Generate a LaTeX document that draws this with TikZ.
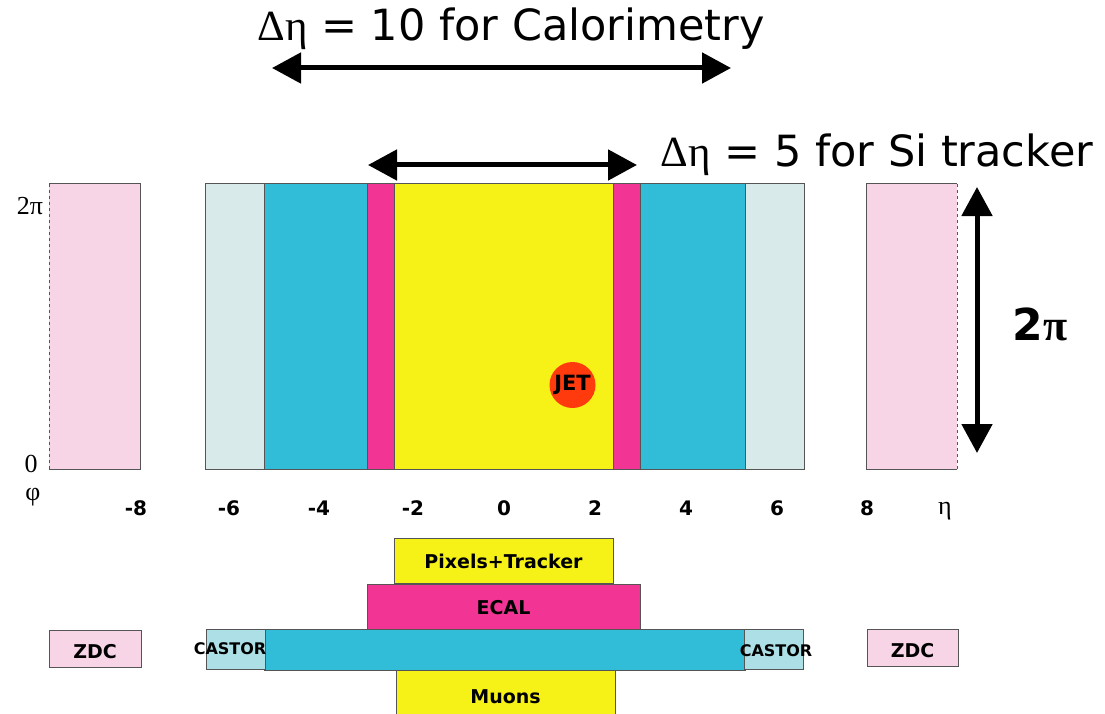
\documentclass[tikz,border=0pt]{standalone}
\usepackage{fontspec}
\setmainfont{DejaVu Sans}
\newfontfamily\serif{Liberation Serif}
\usetikzlibrary{arrows.meta}
\definecolor{zdcpink}{HTML}{F8D5E6}
\definecolor{hfgrey}{HTML}{D8EAEA}
\definecolor{castorc}{HTML}{ADE0E6}
\definecolor{hcal}{HTML}{31BCD8}
\definecolor{ecal}{HTML}{F23594}
\definecolor{trk}{HTML}{F6F218}
\definecolor{jetc}{HTML}{FF3B0E}
\definecolor{edge}{HTML}{555555}
\tikzset{
  box/.style={draw=edge, line width=1pt, inner sep=0pt, outer sep=0pt, anchor=north west},
  fillbox/.style={inner sep=0pt, outer sep=0pt, anchor=north west},
  lbl/.style={font=\fontsize{19}{19}\selectfont\bfseries, inner sep=0pt},
  castorlbl/.style={font=\fontsize{16}{16}\selectfont\bfseries, inner sep=0pt},
  tick/.style={font=\fontsize{20}{20}\selectfont\bfseries, inner sep=0pt},
  sym/.style={font=\serif\fontsize{26}{26}\selectfont, inner sep=0pt},
  bigtxt/.style={font=\fontsize{43}{43}\selectfont, inner sep=0pt},
  bigarrow/.style={line width=5pt, {Triangle[length=29pt,width=30pt]}-{Triangle[length=29pt,width=30pt]}},
}
\begin{document}
\begin{tikzpicture}[x=1pt,y=-1pt]
\useasboundingbox (0,0) rectangle (1105,714);
% top eta-phi map
\node[fillbox, fill=zdcpink, minimum width=91pt, minimum height=285pt] (zdcL) at (49,184) {};
\draw[edge, line width=1pt] (zdcL.north west) -- (zdcL.north east) -- (zdcL.south east) -- (zdcL.south west);
\draw[edge, line width=1pt, dashed] (zdcL.north west) -- (zdcL.south west);
\node[fillbox, fill=zdcpink, minimum width=91pt, minimum height=285pt] (zdcR) at (866,184) {};
\draw[edge, line width=1pt] (zdcR.north east) -- (zdcR.north west) -- (zdcR.south west) -- (zdcR.south east);
\draw[edge, line width=1pt, dashed] (zdcR.north east) -- (zdcR.south east);
\node[box, fill=hfgrey, minimum width=59pt, minimum height=285pt] (hfL) at (205,184) {};
\node[box, fill=hcal, minimum width=103pt, minimum height=285pt] (hcL) at (264,184) {};
\node[box, fill=ecal, minimum width=27pt, minimum height=285pt] (ecL) at (367,184) {};
\node[box, fill=trk, minimum width=219pt, minimum height=285pt] (trkT) at (394,184) {};
\node[box, fill=ecal, minimum width=27pt, minimum height=285pt] (ecR) at (613,184) {};
\node[box, fill=hcal, minimum width=105pt, minimum height=285pt] (hcR) at (640,184) {};
\node[box, fill=hfgrey, minimum width=59pt, minimum height=285pt] (hfR) at (745,184) {};
% jet
\node[circle, fill=jetc, minimum size=46pt, inner sep=0pt, font=\fontsize{21}{21}\selectfont\bfseries] (jet) at (572.5,385) {JET};
% axis labels
\node[sym] (twopi) at (30,206) {2π};
\node[sym] (zero) at (31,464) {0};
\node[sym] (phi) at (33,497) {φ};
\node[tick] (tm8) at (136,508) {-8};
\node[tick] (tm6) at (229,508) {-6};
\node[tick] (tm4) at (319,508) {-4};
\node[tick] (tm2) at (413,508) {-2};
\node[tick] (t0) at (504,508) {0};
\node[tick] (t2) at (595,508) {2};
\node[tick] (t4) at (686,508) {4};
\node[tick] (t6) at (777,508) {6};
\node[tick] (t8) at (867,508) {8};
\node[sym] (eta) at (945,511) {η};
% arrows and headings
\node[bigtxt, anchor=center] (calo) at (511,29) {{\serif Δη} = 10 for Calorimetry};
\coordinate (caloL) at (272,68);
\coordinate (caloR) at (731,68);
\draw[bigarrow] (caloL) -- (caloR);
\node[bigtxt, anchor=center] (si) at (877,155) {{\serif Δη} = 5 for Si tracker};
\coordinate (siL) at (368,165);
\coordinate (siR) at (637,165);
\draw[bigarrow] (siL) -- (siR);
\coordinate (phT) at (977,187);
\coordinate (phB) at (977,453);
\draw[bigarrow] (phT) -- (phB);
\node[font=\fontsize{44}{44}\selectfont\bfseries, inner sep=0pt] (twopiB) at (1040,324) {2{\serif π}};
% bottom side view
\node[box, fill=trk, minimum width=219pt, minimum height=45pt] (pix) at (394,538) {};
\node[lbl] at ([yshift=-1pt]pix.center) {Pixels+Tracker};
\node[box, fill=ecal, minimum width=273pt, minimum height=45pt] (ecal) at (367,584) {};
\node[lbl] at ([yshift=-1pt]ecal.center) {ECAL};
\node[box, fill=trk, minimum width=219pt, minimum height=50pt] (muon) at (396,670) {};
\node[lbl] at ([yshift=-2pt]muon.center) {Muons};
\node[box, fill=hcal, minimum width=481pt, minimum height=41pt] (hcal) at (264,629) {};
\node[box, fill=castorc, minimum width=59pt, minimum height=40pt] (castL) at (206,629) {};
\node[castorlbl] at (230,649) {CASTOR};
\node[box, fill=castorc, minimum width=59pt, minimum height=40pt] (castR) at (744,629) {};
\node[castorlbl] at (776,651) {CASTOR};
\node[box, fill=zdcpink, minimum width=92pt, minimum height=37pt] (zdcbL) at (49,630) {};
\node[lbl] at ([yshift=-3pt]zdcbL.center) {ZDC};
\node[box, fill=zdcpink, minimum width=91pt, minimum height=37pt] (zdcbR) at (867,629) {};
\node[lbl] at ([yshift=-3pt]zdcbR.center) {ZDC};
\end{tikzpicture}
\end{document}
